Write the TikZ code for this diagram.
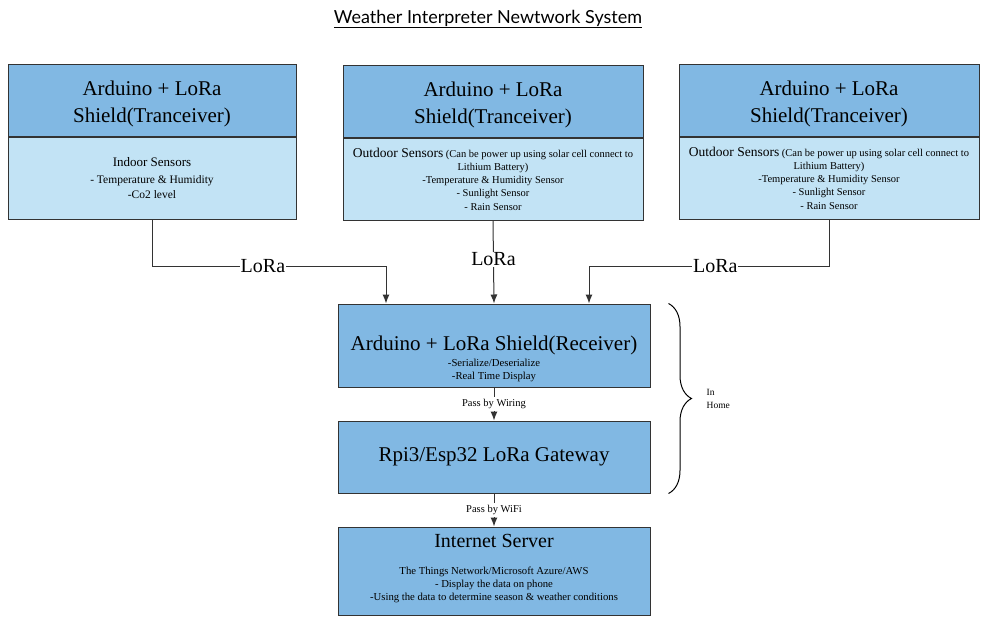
\documentclass[tikz,border=0pt]{standalone}
\usepackage{fontspec}
\setmainfont{Liberation Serif}
\newfontfamily\titrefont{Lato}
\usetikzlibrary{positioning, decorations.pathreplacing, arrows.meta}
\definecolor{bleuFonce}{HTML}{81B8E3}
\definecolor{bleuClair}{HTML}{C2E3F5}
\definecolor{bord}{HTML}{333333}
\newcommand{\montee}{\rule{0pt}{22pt}}

\begin{document}
\begin{tikzpicture}[x=1pt, y=-1pt,
    tete/.style={draw=bord, line width=1pt, fill=bleuFonce, align=center, inner sep=0pt,
        minimum height=72pt, font=\fontsize{21}{27}\selectfont},
    corps/.style={draw=bord, line width=1pt, fill=bleuClair, align=center, inner sep=0pt,
        minimum height=82pt, font=\fontsize{10.5}{13.3}\selectfont},
    bloc/.style={draw=bord, line width=1pt, fill=bleuFonce, align=center, inner sep=0pt,
        minimum width=312pt, font=\fontsize{21}{25}\selectfont},
    sous/.style={align=center, inner sep=0pt, font=\fontsize{10.7}{13}\selectfont},
    lien/.style={fill=white, inner sep=1pt, font=\fontsize{20}{24}\selectfont},
    petit/.style={fill=white, inner sep=2pt, font=\fontsize{10.5}{12}\selectfont},
    fleche/.style={-{Latex[length=9pt, width=7pt]}, draw=bord, line width=1pt}]

    \useasboundingbox (0,0) rectangle (991,635);

    % Titre
    \node[font=\titrefont\fontsize{18}{21}\selectfont] (titre) at (488,19)
        {\underline{Weather Interpreter Newtwork System}};

    % Les trois emetteurs
    \node[tete, minimum width=288pt] (h1) at (152,100) {\montee Arduino + LoRa\\Shield(Tranceiver)};
    \node[corps, minimum width=288pt, below=0pt of h1, font=\fontsize{11.5}{14.8}\selectfont] (b1)
        {{\fontsize{13}{16}\selectfont Indoor Sensors}\\[1.5pt]
         - Temperature \& Humidity\\
         -Co2 level};

    \node[tete, minimum width=300pt] (h2) at (493,101) {\montee Arduino + LoRa\\Shield(Tranceiver)};
    \node[corps, minimum width=300pt, below=0pt of h2] (b2)
        {{\fontsize{13.5}{14}\selectfont Outdoor Sensors} (Can be power up using solar cell connect to\\
         Lithium Battery)\\-Temperature \& Humidity Sensor\\- Sunlight Sensor\\- Rain Sensor};

    \node[tete, minimum width=300pt] (h3) at (829,100) {\montee Arduino + LoRa\\Shield(Tranceiver)};
    \node[corps, minimum width=300pt, below=0pt of h3] (b3)
        {{\fontsize{13.5}{14}\selectfont Outdoor Sensors} (Can be power up using solar cell connect to\\
         Lithium Battery)\\-Temperature \& Humidity Sensor\\- Sunlight Sensor\\- Rain Sensor};

    % Recepteur, passerelle, serveur
    \node[bloc, minimum height=83pt] (recv) at (494,345.5) {Arduino + LoRa Shield(Receiver)};
    \node[sous, anchor=north] (recvSous) at ([yshift=-13.5pt]recv.center)
        {-Serialize/Deserialize\\-Real Time Display};

    \node[bloc, minimum height=72pt] (gw) at (494,457) {Rpi3/Esp32 LoRa Gateway};

    \node[bloc, minimum height=88pt] (serveur) at (494,571) {};
    \node[font=\fontsize{20}{24}\selectfont] (serveurTitre) at ([yshift=30pt]serveur.center) {Internet Server};
    \node[sous] (serveurSous) at ([yshift=-13.5pt]serveur.center)
        {The Things Network/Microsoft Azure/AWS\\- Display the data on phone\\
         -Using the data to determine season \& weather conditions};

    % Liaisons
    \draw[fleche] (b1.south) |- node[lien, pos=0.737]{LoRa} ([xshift=-108pt,yshift=37pt]recv.north)
        -- ([xshift=-108pt]recv.north);
    \draw[fleche] (b2.south) -- node[lien, pos=0.47]{LoRa} (recv.north);
    \draw[fleche] (b3.south) |- node[lien, pos=0.737]{LoRa} ([xshift=95pt,yshift=37pt]recv.north)
        -- ([xshift=95pt]recv.north);
    \draw[fleche] (recv) -- node[petit]{Pass by Wiring} (gw);
    \draw[fleche] (gw) -- node[petit]{Pass by WiFi} (serveur);

    % Accolade
    \draw[line width=1pt, decorate, decoration={brace, amplitude=23pt}]
        ([xshift=18pt]recv.north east) -- ([xshift=18pt]gw.south east)
        coordinate[midway] (milieu);
    \node[sous, align=left, anchor=west, font=\fontsize{9.5}{13}\selectfont] (maison)
        at ([xshift=38pt]milieu) {In\\Home};

\end{tikzpicture}
\end{document}
